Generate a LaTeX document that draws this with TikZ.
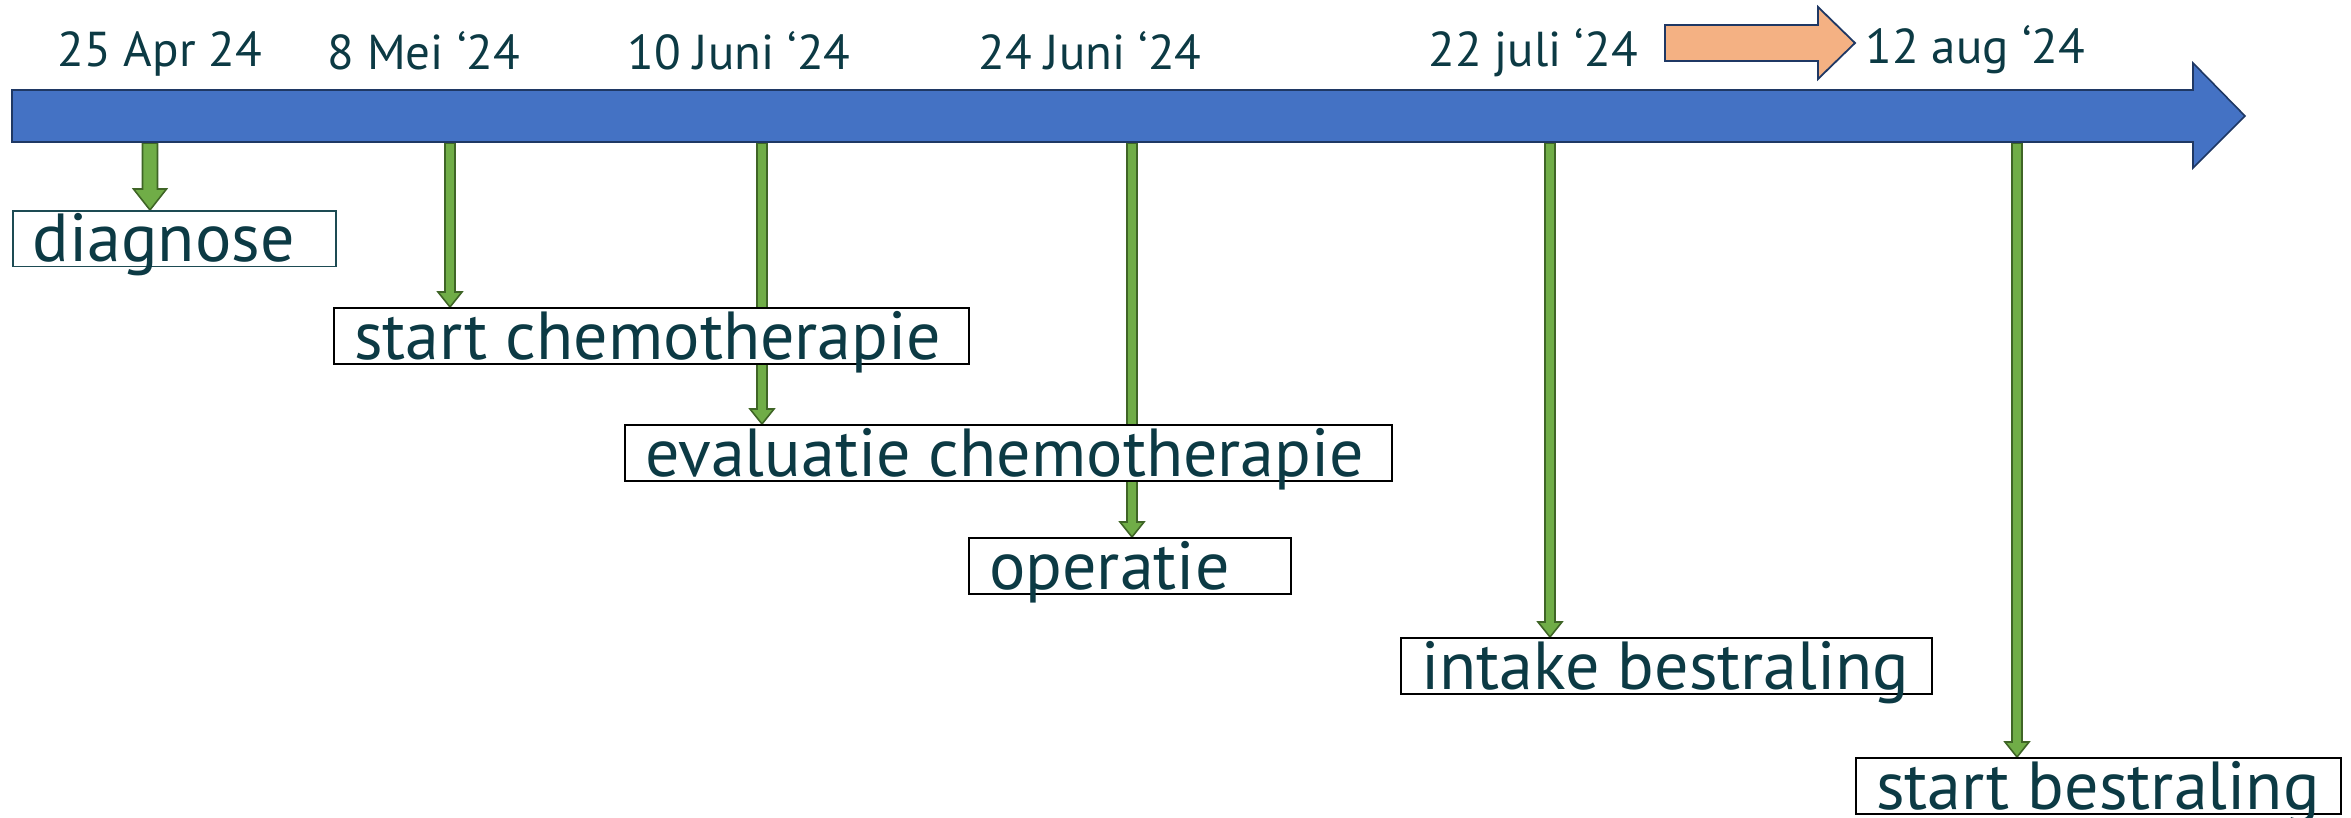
\documentclass[tikz,border=0pt]{standalone}
\usepackage{fontspec}
\setmainfont{PT Sans}
\usetikzlibrary{calc,backgrounds}
\definecolor{txt}{HTML}{0C3A44}
\definecolor{barfill}{HTML}{4472C4}
\definecolor{bardraw}{HTML}{1F3864}
\definecolor{orfill}{HTML}{F4B183}
\definecolor{gfill}{HTML}{70AD47}
\definecolor{gdraw}{HTML}{3F6526}
\definecolor{teal}{HTML}{1D4B53}
\newcommand\lb[2]{\hbox to #1{#2\hss}}
\tikzset{
  lblbox/.style={draw=black, line width=1.2pt, fill=white, anchor=north west,
    inner xsep=10pt, inner ysep=2.3pt, text height=23.2pt, text depth=0pt,
    font=\fontsize{34}{34}\selectfont, text=txt},
  datelbl/.style={anchor=base west, inner sep=0pt, font=\fontsize{24.5}{25}\selectfont, text=txt},
  barstyle/.style={fill=barfill, draw=bardraw, line width=0.8pt, line join=miter},
  orstyle/.style={fill=orfill, draw=bardraw, line width=0.9pt, line join=miter},
  garrow/.style={fill=gfill, draw=gdraw, line width=0.8pt, line join=miter},
}
% #1 start coordinate, #2 tip coordinate, #3 half shaft, #4 half head, #5 head length (px)
\newcommand\garr[5]{%
  \filldraw[garrow] ($(#1)+(-#3,0)$) -- ($(#2)+(-#3,-#5)$) -- ($(#2)+(-#4,-#5)$) -- (#2)
    -- ($(#2)+(#4,-#5)$) -- ($(#2)+(#3,-#5)$) -- ($(#1)+(#3,0)$) -- cycle;}
\begin{document}
\begin{tikzpicture}[x=0.5pt,y=-0.5pt]
\useasboundingbox (0,0) rectangle (2351,818);
% timeline bar
\filldraw[barstyle] (12,90) -- (2193,90) -- (2193,63) -- (2245,116) -- (2193,168) -- (2193,142) -- (12,142) -- cycle;
% orange arrow
\filldraw[orstyle] (1665,25) -- (1818,25) -- (1818,7) -- (1855,43) -- (1818,79) -- (1818,61) -- (1665,61) -- cycle;
% dates
\node[datelbl] (d1) at (57,67) {25 Apr 24};
\node[datelbl] (d2) at (327,70) {8 Mei ‘24};
\node[datelbl] (d3) at (627,70) {10 Juni ‘24};
\node[datelbl] (d4) at (978,70) {24 Juni ‘24};
\node[datelbl] (d5) at (1428,67) {22 juli ‘24};
\node[datelbl] (d6) at (1865,64) {12 aug ‘24};
% boxes
\node[lblbox, draw=teal, line width=0.9pt] (b1) at (12,210) {\lb{141.5pt}{diagnose}};
\node[lblbox] (b2) at (333,307) {\lb{297.5pt}{start chemotherapie}};
\node[lblbox] (b3) at (624,424) {\lb{363.5pt}{evaluatie chemotherapie}};
\node[lblbox] (b4) at (968,537) {\lb{141pt}{operatie}};
\node[lblbox] (b5) at (1400,637) {\lb{245.5pt}{intake bestraling}};
\node[lblbox] (b6) at (1855,757) {\lb{222.5pt}{start bestraling}};
% start points on bar
\coordinate (s1) at (150,143);
\coordinate (s2) at (450,143);
\coordinate (s3) at (762,143);
\coordinate (s4) at (1132,143);
\coordinate (s5) at (1550,143);
\coordinate (s6) at (2017,143);
\coordinate (t1) at (s1 |- b1.north);
\coordinate (t2) at (s2 |- b2.north);
\coordinate (t3) at (s3 |- b3.north);
\coordinate (t4) at (s4 |- b4.north);
\coordinate (t5) at (s5 |- b5.north);
\coordinate (t6) at (s6 |- b6.north);
\begin{scope}[on background layer]
\garr{s1}{t1}{7.5}{16.5}{21}
\garr{s2}{t2}{5}{12}{15}
\garr{s3}{t3}{5}{12}{15}
\garr{s4}{t4}{5}{12}{15}
\garr{s5}{t5}{5}{12}{15}
\garr{s6}{t6}{5}{12}{15}
\end{scope}
\end{tikzpicture}
\end{document}
